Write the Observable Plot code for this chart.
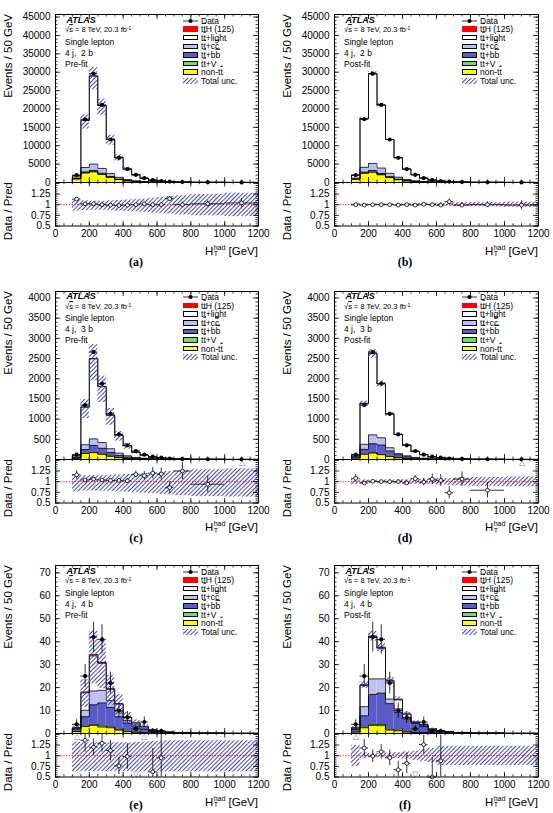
<!DOCTYPE html>
<html>
<head>
<meta charset="utf-8">
<title>ttH single lepton: HT(had) distributions</title>
<script src="https://cdn.jsdelivr.net/npm/d3@7"></script>
<script src="https://cdn.jsdelivr.net/npm/@observablehq/plot@0.6"></script>
<style>
  html, body { margin: 0; padding: 0; background: #fff; }
  #page { position: relative; width: 553px; height: 813px; overflow: hidden; background: #fff;
          font-family: "Liberation Sans", Arial, Helvetica, sans-serif; color: #000; }
  .t { position: absolute; white-space: nowrap; line-height: 1; }
  .ob { text-decoration: overline; text-decoration-thickness: 0.6px; }
  .sw { position: absolute; box-sizing: border-box; line-height: 0; font-size: 0; }
  .sw svg { display: block; }
  .sup { font-size: 0.68em; vertical-align: 0.45em; }
</style>
</head>
<body>
<svg width="0" height="0" style="position:absolute">
  <defs>
    <pattern id="hatch" patternUnits="userSpaceOnUse" width="3" height="3" patternTransform="rotate(45)">
      <rect x="0" y="0" width="0.95" height="3" fill="#3c3cb4"/>
    </pattern>
  </defs>
</svg>
<div id="page"></div>
<script>
// ---------------------------------------------------------------------------
// Binning in H_T^had [GeV]; the last bins are wider and quoted per 50 GeV
const edges = [100, 150, 200, 250, 300, 350, 400, 450, 500, 550, 600, 650, 700, 800, 1000, 1200];

// Observed events / 50 GeV
const data2b = [2000, 17200, 29600, 21100, 11700, 6700, 3650, 2100, 1200, 650, 400, 250, 140, 60, 20];
const data3b = [120, 1350, 2660, 1880, 1130, 620, 350, 210, 120, 70, 45, 25, 15, 6, 3];
const data4b = [4, 25, 42, 41, 22, 10, 7, 2, 5, 1, 1, 0, 0, 0, 0];
const data4bErr = [2, 5, 6.5, 6.4, 4.7, 3.2, 2.6, 1.4, 2.2, 1, 1, 0, 0, 0, 0];

// (a) 4j 2b pre-fit
const a_nonTT   = [1000, 2600, 2900, 2200, 1400, 800, 450, 250, 140, 80, 50, 30, 18, 8, 3];
const a_ttV     = [5, 30, 60, 50, 35, 20, 12, 8, 5, 3, 2, 1, 1, 0.5, 0.2];
const a_ttbb    = [30, 250, 350, 280, 180, 110, 65, 40, 22, 13, 8, 5, 3, 1.5, 0.5];
const a_ttcc    = [200, 1200, 1700, 1300, 800, 480, 280, 160, 90, 50, 30, 18, 11, 5, 1.6];
const a_ttlight = [553, 12805, 23960, 17145, 9370, 5430, 2887, 1638, 921, 502, 309, 165, 107, 44, 13.6];
const a_ttH     = [2, 15, 30, 25, 15, 10, 6, 4, 2, 1.5, 1, 0.6, 0.4, 0.2, 0.1];
const a_ratio   = [1.13, 1.02, 1.02, 1.0, 0.99, 0.98, 0.99, 1.0, 1.02, 1.0, 1.0, 1.14, 1.0, 1.02, 1.04];
const a_ratioErr= [0.03, 0.01, 0.01, 0.01, 0.01, 0.015, 0.02, 0.025, 0.03, 0.04, 0.05, 0.06, 0.06, 0.07, 0.1];
const a_uncUp   = [0.1, 0.09, 0.08, 0.08, 0.09, 0.1, 0.11, 0.12, 0.13, 0.15, 0.17, 0.19, 0.21, 0.24, 0.27];
const a_uncDn   = [0.15, 0.14, 0.13, 0.13, 0.14, 0.15, 0.16, 0.17, 0.18, 0.2, 0.21, 0.22, 0.24, 0.26, 0.28];

// (b) 4j 2b post-fit
const b_nonTT   = [900, 2500, 2800, 2100, 1350, 780, 440, 240, 135, 78, 48, 29, 17, 7.5, 2.8];
const b_ttV     = [5, 30, 60, 50, 35, 20, 12, 8, 5, 3, 2, 1, 1, 0.5, 0.2];
const b_ttbb    = [30, 300, 420, 330, 210, 120, 70, 40, 22, 12, 7, 4, 3, 1.4, 0.5];
const b_ttcc    = [250, 1300, 1900, 1450, 900, 530, 310, 180, 100, 55, 33, 20, 12, 5, 1.8];
const b_ttlight = [813, 13225, 24390, 17145, 9190, 5310, 2812, 1648, 926, 500, 313, 179, 108, 45.4, 14.8];
const b_ttH     = [2, 15, 30, 25, 15, 10, 6, 4, 2, 1.5, 1, 0.6, 0.4, 0.2, 0.1];
const b_ratio   = [1.0, 0.99, 1.0, 1.0, 1.0, 0.99, 1.0, 0.99, 1.01, 1.0, 0.99, 1.07, 0.99, 1.0, 0.99];
const b_ratioErr= [0.025, 0.008, 0.006, 0.007, 0.009, 0.012, 0.017, 0.022, 0.03, 0.04, 0.05, 0.06, 0.06, 0.065, 0.1];
const b_uncUp   = [0.03, 0.02, 0.02, 0.02, 0.02, 0.02, 0.025, 0.025, 0.03, 0.03, 0.035, 0.04, 0.045, 0.05, 0.06];
const b_uncDn   = [0.03, 0.02, 0.02, 0.02, 0.02, 0.02, 0.025, 0.025, 0.03, 0.03, 0.035, 0.04, 0.045, 0.05, 0.06];

// (c) 4j 3b pre-fit
const c_nonTT   = [30, 150, 170, 130, 80, 45, 25, 14, 8, 5, 3, 2, 1.2, 0.5, 0.2];
const c_ttV     = [1, 6, 10, 8, 6, 4, 2.5, 1.5, 1, 0.6, 0.4, 0.3, 0.2, 0.1, 0.04];
const c_ttbb    = [15, 90, 170, 140, 90, 55, 32, 18, 11, 6, 4, 3, 1.4, 0.7, 0.2];
const c_ttcc    = [20, 120, 160, 140, 90, 55, 32, 18, 11, 6, 4, 3, 1.4, 0.7, 0.2];
const c_ttlight = [36.5, 930, 1982, 1385, 829, 438, 249.5, 127.3, 73.3, 40, 26.3, 20.5, 7.7, 4.35, 0.84];
const c_ttH     = [0.5, 4, 8, 7, 5, 3, 2, 1.2, 0.7, 0.4, 0.3, 0.2, 0.1, 0.05, 0.02];
const c_ratio   = [1.16, 1.04, 1.06, 1.04, 1.03, 1.03, 1.02, 1.17, 1.14, 1.2, 1.18, 0.86, 1.25, 0.94, 2.0];
const c_ratioErr= [0.1, 0.03, 0.02, 0.025, 0.03, 0.04, 0.055, 0.08, 0.1, 0.13, 0.14, 0.14, 0.2, 0.2, 0.6];
const c_uncUp   = [0.16, 0.14, 0.14, 0.14, 0.15, 0.16, 0.17, 0.18, 0.19, 0.2, 0.22, 0.24, 0.26, 0.28, 0.3];
const c_uncDn   = [0.24, 0.22, 0.22, 0.22, 0.23, 0.24, 0.25, 0.26, 0.27, 0.28, 0.3, 0.31, 0.33, 0.35, 0.36];

// (d) 4j 3b post-fit
const d_nonTT   = [35, 130, 160, 120, 75, 42, 24, 13, 8, 4.5, 3, 2, 1.1, 0.5, 0.2];
const d_ttV     = [1, 6, 10, 8, 6, 4, 2.5, 1.5, 1, 0.6, 0.4, 0.3, 0.2, 0.1, 0.04];
const d_ttbb    = [25, 115, 220, 230, 130, 70, 40, 22, 13, 7, 5, 3.5, 1.7, 0.9, 0.25];
const d_ttcc    = [20, 125, 220, 180, 80, 30, 25, 15, 9, 5, 3.3, 2.5, 1.1, 0.6, 0.15];
const d_ttlight = [29.5, 1010, 2012, 1335, 834, 471, 266.5, 143.3, 89.3, 48.5, 32, 25.5, 9.8, 5.35, 0.84];
const d_ttH     = [0.5, 4, 8, 7, 5, 3, 2, 1.2, 0.7, 0.4, 0.3, 0.2, 0.1, 0.05, 0.02];
const d_ratio   = [1.08, 0.97, 1.01, 1.0, 1.0, 1.0, 0.97, 1.07, 0.99, 1.06, 1.03, 0.74, 1.06, 0.8, 2.0];
const d_ratioErr= [0.09, 0.028, 0.02, 0.023, 0.03, 0.04, 0.053, 0.073, 0.09, 0.12, 0.14, 0.14, 0.17, 0.18, 0.6];
const d_uncUp   = [0.05, 0.04, 0.035, 0.035, 0.04, 0.04, 0.045, 0.05, 0.055, 0.06, 0.07, 0.08, 0.09, 0.1, 0.11];
const d_uncDn   = [0.07, 0.05, 0.045, 0.045, 0.05, 0.05, 0.055, 0.06, 0.065, 0.07, 0.08, 0.09, 0.1, 0.11, 0.12];

// (e) 4j 4b pre-fit
const e_nonTT   = [0.8, 3, 3.5, 2.8, 2.5, 1.5, 0.8, 0.5, 0.3, 0.2, 0.12, 0.08, 0.05, 0.02, 0.01];
const e_ttV     = [0.1, 0.3, 0.5, 0.5, 0.4, 0.3, 0.2, 0.15, 0.1, 0.05, 0.04, 0.03, 0.02, 0.01, 0.003];
const e_ttbb    = [1.0, 4, 8.5, 10, 8.5, 5.5, 3.5, 2.3, 1.5, 0.8, 0.5, 0.33, 0.19, 0.1, 0.03];
const e_ttcc    = [0.3, 2.8, 6, 5.5, 3, 2.5, 1.2, 0.8, 0.5, 0.3, 0.2, 0.13, 0.07, 0.035, 0.01];
const e_ttlight = [0.25, 7.6, 15.3, 11.7, 4.7, 3, 1.3, 0.8, 0.55, 0.22, 0.17, 0.12, 0.065, 0.033, 0.016];
const e_ttH     = [0.05, 0.3, 0.5, 0.5, 0.4, 0.2, 0.1, 0.05, 0.05, 0.03, 0.02, 0.01, 0.005, 0.002, 0.001];
const e_ratio   = [1.6, 1.36, 1.2, 1.29, 1.12, 0.76, 0.98, 0.43, 1.65, 0.62, 0.95, null, null, null, null];
const e_ratioErr= [0, 0.28, 0.19, 0.21, 0.24, 0.2, 0.3, 0, 0, 0.55, 0.75, 0, 0, 0, 0];
const e_uncUp   = [0.32, 0.3, 0.3, 0.3, 0.3, 0.3, 0.3, 0.31, 0.32, 0.33, 0.34, 0.35, 0.35, 0.35, 0.35];
const e_uncDn   = [0.38, 0.37, 0.37, 0.37, 0.37, 0.37, 0.37, 0.38, 0.38, 0.38, 0.38, 0.38, 0.38, 0.38, 0.38];

// (f) 4j 4b post-fit
const f_nonTT   = [0.6, 2.5, 3.5, 3.4, 1.5, 1.2, 0.6, 0.4, 0.3, 0.2, 0.12, 0.08, 0.05, 0.02, 0.01];
const f_ttV     = [0.1, 0.3, 0.5, 0.5, 0.4, 0.3, 0.2, 0.15, 0.1, 0.05, 0.04, 0.03, 0.02, 0.01, 0.003];
const f_ttbb    = [1.0, 4.9, 13, 13.7, 11.1, 7.8, 5.6, 3.9, 2.6, 1.2, 0.65, 0.45, 0.25, 0.12, 0.04];
const f_ttcc    = [0.4, 4, 6.8, 6.2, 2, 1.4, 0.6, 0.25, 0.5, 0.25, 0.15, 0.1, 0.06, 0.03, 0.008];
const f_ttlight = [0.35, 9.2, 18.1, 13.3, 7.8, 4, 1.4, 0.25, 0.45, 0.27, 0.16, 0.13, 0.065, 0.038, 0.008];
const f_ttH     = [0.05, 0.3, 0.5, 0.5, 0.4, 0.2, 0.1, 0.05, 0.05, 0.03, 0.02, 0.01, 0.005, 0.002, 0.001];
const f_ratio   = [1.6, 1.18, 0.99, 1.09, 0.95, 0.67, 0.82, 0.4, 1.26, 0.5, 0.88, null, null, null, null];
const f_ratioErr= [0, 0.2, 0.15, 0.17, 0.18, 0.2, 0.24, 0, 0.22, 0.45, 0.6, 0, 0, 0, 0];
const f_uncUp   = [0.24, 0.07, 0.05, 0.05, 0.06, 0.07, 0.09, 0.11, 0.14, 0.17, 0.22, 0.22, 0.22, 0.22, 0.22];
const f_uncDn   = [0.25, 0.07, 0.05, 0.05, 0.06, 0.07, 0.09, 0.11, 0.14, 0.17, 0.23, 0.23, 0.23, 0.23, 0.23];

// Tick labels
const xTickLabels = [0, 200, 400, 600, 800, 1000, 1200];
const yTicks2b = [0, 5000, 10000, 15000, 20000, 25000, 30000, 35000, 40000, 45000];
const yTicks3b = [0, 500, 1000, 1500, 2000, 2500, 3000, 3500, 4000];
const yTicks4b = [0, 10, 20, 30, 40, 50, 60, 70];
const ratioTickLabels = [0.5, 0.75, 1, 1.25];

// ---------------------------------------------------------------------------
const FILLS = ["#ffff00", "#66e066", "#5a5ac8", "#c0c0f0", "#ffffff", "#ff0000"];
const HATCH = "url(#hatch)";
const FONT = '"Liberation Sans", Arial, Helvetica, sans-serif';

// frame geometry of the 2 x 3 grid of panels
const COLS = [55, 334];
const FW = [203, 204];
const ROWS = [14, 290.5, 565];
const MH = 168, RH = 43.5;
const R_DOMAIN = [0.5, 1.52];

const page = document.getElementById("page");
const lo = edges.slice(0, -1), hi = edges.slice(1);
const bins = lo.map((l, i) => ({i, lo: l, hi: hi[i], mid: (l + hi[i]) / 2}));

const xMinor = d3.range(0, 1201, 50);
const ratioMajor = [0.5, 0.75, 1, 1.25, 1.5];
const ratioMinor = d3.range(10, 31).map(k => k * 0.05);

const panels = [
  {key: "a", col: 0, row: 0, data: data2b, err: null,
   comps: [a_nonTT, a_ttV, a_ttbb, a_ttcc, a_ttlight, a_ttH],
   ratio: a_ratio, rErr: a_ratioErr, up: a_uncUp, dn: a_uncDn,
   yMax: 45700, yMaj: yTicks2b, yMinStep: 1000, region: "4 j,&nbsp; 2 b", fit: "Pre-fit"},
  {key: "b", col: 1, row: 0, data: data2b, err: null,
   comps: [b_nonTT, b_ttV, b_ttbb, b_ttcc, b_ttlight, b_ttH],
   ratio: b_ratio, rErr: b_ratioErr, up: b_uncUp, dn: b_uncDn,
   yMax: 45700, yMaj: yTicks2b, yMinStep: 1000, region: "4 j,&nbsp; 2 b", fit: "Post-fit"},
  {key: "c", col: 0, row: 1, data: data3b, err: null,
   comps: [c_nonTT, c_ttV, c_ttbb, c_ttcc, c_ttlight, c_ttH],
   ratio: c_ratio, rErr: c_ratioErr, up: c_uncUp, dn: c_uncDn,
   yMax: 4160, yMaj: yTicks3b, yMinStep: 100, region: "4 j,&nbsp; 3 b", fit: "Pre-fit"},
  {key: "d", col: 1, row: 1, data: data3b, err: null,
   comps: [d_nonTT, d_ttV, d_ttbb, d_ttcc, d_ttlight, d_ttH],
   ratio: d_ratio, rErr: d_ratioErr, up: d_uncUp, dn: d_uncDn,
   yMax: 4160, yMaj: yTicks3b, yMinStep: 100, region: "4 j,&nbsp; 3 b", fit: "Post-fit"},
  {key: "e", col: 0, row: 2, data: data4b, err: data4bErr,
   comps: [e_nonTT, e_ttV, e_ttbb, e_ttcc, e_ttlight, e_ttH],
   ratio: e_ratio, rErr: e_ratioErr, up: e_uncUp, dn: e_uncDn,
   yMax: 73.2, yMaj: yTicks4b, yMinStep: 2, region: "4 j,&nbsp; 4 b", fit: "Pre-fit"},
  {key: "f", col: 1, row: 2, data: data4b, err: data4bErr,
   comps: [f_nonTT, f_ttV, f_ttbb, f_ttcc, f_ttlight, f_ttH],
   ratio: f_ratio, rErr: f_ratioErr, up: f_uncUp, dn: f_uncDn,
   yMax: 73.2, yMaj: yTicks4b, yMinStep: 2, region: "4 j,&nbsp; 4 b", fit: "Post-fit"}
];

function place(node, left, top) {
  node.style.position = "absolute";
  node.style.left = left + "px";
  node.style.top = top + "px";
  node.style.maxWidth = "none";
  page.appendChild(node);
}

// inward-pointing ticks on all four sides of a frame
function frameTicks(fw, fh, xMaj, xMin, yMaj, yMin, L) {
  const s = {stroke: "#000", strokeWidth: 0.8};
  return [
    Plot.tickX(xMaj, {x: d => d, insetTop: fh - L.xMaj, ...s}),
    Plot.tickX(xMaj, {x: d => d, insetBottom: fh - L.xMaj, ...s}),
    Plot.tickX(xMin, {x: d => d, insetTop: fh - L.xMin, ...s}),
    Plot.tickX(xMin, {x: d => d, insetBottom: fh - L.xMin, ...s}),
    Plot.tickY(yMaj, {y: d => d, insetRight: fw - L.yMaj, ...s}),
    Plot.tickY(yMaj, {y: d => d, insetLeft: fw - L.yMaj, ...s}),
    Plot.tickY(yMin, {y: d => d, insetRight: fw - L.yMin, ...s}),
    Plot.tickY(yMin, {y: d => d, insetLeft: fw - L.yMin, ...s})
  ];
}

function drawMain(p) {
  const fx = COLS[p.col], fw = FW[p.col], ft = ROWS[p.row];
  const ml = 50, mr = 4, mt = 8, mb = 8;
  const cum = bins.map(() => 0);
  const marks = [];
  const outline = [];
  p.comps.forEach((arr, k) => {
    const rows = bins.map(b => ({...b, y1: cum[b.i], y2: cum[b.i] + arr[b.i]}));
    rows.forEach(r => { cum[r.i] = r.y2; });
    marks.push(Plot.rect(rows, {x1: "lo", x2: "hi", y1: "y1", y2: "y2", fill: FILLS[k]}));
    outline.push({x: lo[0], y: 0, k});
    rows.forEach(r => outline.push({x: r.lo, y: r.y2, k}, {x: r.hi, y: r.y2, k}));
    outline.push({x: hi[hi.length - 1], y: 0, k});
  });
  const total = cum.slice();
  marks.push(Plot.line(outline, {x: "x", y: "y", z: "k", stroke: "#000", strokeWidth: 0.75}));
  marks.push(Plot.rect(bins, {
    x1: "lo", x2: "hi",
    y1: b => total[b.i] * (1 - p.dn[b.i]),
    y2: b => total[b.i] * (1 + p.up[b.i]),
    fill: HATCH
  }));
  const pts = bins.filter(b => p.data[b.i] > 0);
  marks.push(Plot.ruleY(pts, {y: b => p.data[b.i], x1: "lo", x2: "hi", stroke: "#000", strokeWidth: 0.8}));
  if (p.err) {
    marks.push(Plot.ruleX(pts, {
      x: "mid",
      y1: b => Math.max(0, p.data[b.i] - p.err[b.i]),
      y2: b => p.data[b.i] + p.err[b.i],
      stroke: "#000", strokeWidth: 0.8
    }));
  }
  marks.push(Plot.dot(pts, {x: "mid", y: b => p.data[b.i], r: 2.1, fill: "#000"}));
  const yMin = d3.range(0, p.yMax, p.yMinStep);
  marks.push(...frameTicks(fw, MH, xTickLabels, xMinor, p.yMaj, yMin, {xMaj: 5, xMin: 2.5, yMaj: 5, yMin: 2.5}));
  marks.push(Plot.frame({stroke: "#000", strokeWidth: 1}));
  marks.push(Plot.axisY(p.yMaj, {tickSize: 0, tickPadding: 5, tickFormat: d => String(d), label: null, fontSize: 10}));

  const svg = Plot.plot({
    width: ml + fw + mr, height: mt + MH + mb,
    marginLeft: ml, marginRight: mr, marginTop: mt, marginBottom: mb,
    style: {fontFamily: FONT, fontSize: "10px", background: "transparent", overflow: "visible"},
    x: {domain: [0, 1200], axis: null},
    y: {domain: [0, p.yMax]},
    marks
  });
  place(svg, fx - ml, ft - mt);
}

function drawRatio(p) {
  const fx = COLS[p.col], fw = FW[p.col], ft = ROWS[p.row] + MH;
  const ml = 50, mr = 14, mt = 6, mb = 22;
  const has = b => p.ratio[b.i] != null;
  const inRange = bins.filter(b => has(b) && p.ratio[b.i] >= R_DOMAIN[0] && p.ratio[b.i] <= R_DOMAIN[1]);
  const above = bins.filter(b => has(b) && p.ratio[b.i] > R_DOMAIN[1]);
  const below = bins.filter(b => has(b) && p.ratio[b.i] < R_DOMAIN[0]);
  const marks = [
    Plot.rect(bins, {x1: "lo", x2: "hi", y1: b => 1 - p.dn[b.i], y2: b => 1 + p.up[b.i], fill: HATCH, clip: true}),
    Plot.ruleY([1], {stroke: "#ff0000", strokeWidth: 1, strokeDasharray: "1.2,1.6"}),
    Plot.ruleY(inRange, {y: b => p.ratio[b.i], x1: "lo", x2: "hi", stroke: "#000", strokeWidth: 0.8}),
    Plot.ruleX(inRange, {
      x: "mid", y1: b => p.ratio[b.i] - p.rErr[b.i], y2: b => p.ratio[b.i] + p.rErr[b.i],
      stroke: "#000", strokeWidth: 0.8, clip: true
    }),
    Plot.dot(inRange, {x: "mid", y: b => p.ratio[b.i], r: 1.9, fill: "#fff", stroke: "#000", strokeWidth: 0.8}),
    Plot.text(above, {x: "mid", y: () => 1.44, text: () => "△", fontSize: 8, fill: "#6f80c8"}),
    Plot.text(below, {x: "mid", y: () => 0.57, text: () => "▽", fontSize: 8, fill: "#6f80c8"}),
    ...frameTicks(fw, RH, xTickLabels, xMinor, ratioMajor, ratioMinor, {xMaj: 4.5, xMin: 2.2, yMaj: 5, yMin: 2.5}),
    Plot.frame({stroke: "#000", strokeWidth: 1}),
    Plot.axisX(xTickLabels, {anchor: "bottom", tickSize: 0, tickPadding: 4, tickFormat: d => String(d), label: null, fontSize: 10}),
    Plot.axisY(ratioTickLabels, {anchor: "left", tickSize: 0, tickPadding: 5, tickFormat: d => String(d), label: null, fontSize: 10})
  ];
  const svg = Plot.plot({
    width: ml + fw + mr, height: mt + RH + mb,
    marginLeft: ml, marginRight: mr, marginTop: mt, marginBottom: mb,
    style: {fontFamily: FONT, fontSize: "10px", background: "transparent", overflow: "visible"},
    x: {domain: [0, 1200]},
    y: {domain: R_DOMAIN},
    marks
  });
  place(svg, fx - ml, ft - mt);
}

// ---------------------------------------------------------------------------
// text
function text(html, x, y, size, anchor = "left", extra = "") {
  const d = document.createElement("div");
  d.className = "t";
  d.innerHTML = html;
  const tr = anchor === "left" ? "translate(0,-50%)" : anchor === "right" ? "translate(-100%,-50%)" : "translate(-50%,-50%)";
  d.style.cssText = `left:${x}px;top:${y}px;font-size:${size}px;transform:${tr};${extra}`;
  page.appendChild(d);
  return d;
}
function vtitle(str, cx, topEnd, size) {
  const d = document.createElement("div");
  d.className = "t";
  d.textContent = str;
  d.style.cssText = `left:${cx}px;top:${topEnd}px;font-size:${size}px;transform-origin:0 0;transform:rotate(-90deg) translate(-100%,-50%);`;
  page.appendChild(d);
}
function swatch(x, y, w, h, css) {
  const d = document.createElement("div");
  d.className = "sw";
  d.style.cssText = `left:${x}px;top:${y - h / 2}px;width:${w}px;height:${h}px;${css}`;
  page.appendChild(d);
  return d;
}

const tt = 't<span class="ob">t</span>';
const legendLabels = [
  "Data", `${tt}H (125)`, `${tt}+light`, `${tt}+c<span class="ob">c</span>`,
  `${tt}+b<span class="ob">b</span>`, `${tt}+V`, `non-${tt}`, "Total unc."
];

function drawText(p) {
  const fx = COLS[p.col], fw = FW[p.col], ft = ROWS[p.row];
  const rb = ft + MH + RH;
  text("<b><i>ATLAS</i></b>", fx + 11.5, ft + 5.5, 9);
  text(`√<span class="ob">s</span> = 8 TeV, 20.3 fb<span class="sup">-1</span>`, fx + 10, ft + 16, 7.5);
  text("Single lepton", fx + 10, ft + 27.5, 8.5);
  text(p.region, fx + 10, ft + 38.5, 8.5);
  text(p.fit, fx + 10, ft + 49.5, 8.5);

  // legend
  const sx = fx + 128, lx = fx + 146;
  legendLabels.forEach((lab, i) => {
    const cy = ft + 6.5 + 8.6 * i;
    text(lab, lx, cy, 8.5);
    if (i === 0) {
      const s = swatch(sx, cy, 15, 6, "");
      s.innerHTML = '<svg width="15" height="6"><line x1="0" y1="3" x2="15" y2="3" stroke="#000" stroke-width="0.8"/><circle cx="7.5" cy="3" r="2.1" fill="#000"/></svg>';
    } else if (i === 7) {
      const s = swatch(sx, cy, 15, 6, "");
      s.innerHTML = '<svg width="15" height="6"><rect width="15" height="6" fill="url(#hatch)"/></svg>';
    } else {
      const k = [5, 4, 3, 2, 1, 0][i - 1];
      swatch(sx, cy, 15, 5.5, `background:${FILLS[k]};border:0.8px solid ${k === 5 ? "#ff0000" : "#000"};`);
    }
  });

  // axis titles
  vtitle("Events / 50 GeV", fx - 46, ft, 11.5);
  vtitle("Data / Pred", fx - 46, ft + MH, 11.5);
  text('H<span style="display:inline-block;vertical-align:-0.3em;line-height:0.95;font-size:7px;margin-left:0.5px;"><span style="display:block">had</span><span style="display:block">T</span></span> [GeV]',
       fx + fw, rb + 26, 11.5, "right");
  // panel letter, kept inside the page on the last row
  const cy = Math.min(rb + 36, 805);
  text(`(${p.key})`, [136, 405][p.col], cy, 12, "center", 'font-family:"Liberation Serif","Times New Roman",serif;font-weight:bold;');
}

for (const p of panels) {
  drawMain(p);
  drawRatio(p);
  drawText(p);
}
</script>
</body>
</html>
